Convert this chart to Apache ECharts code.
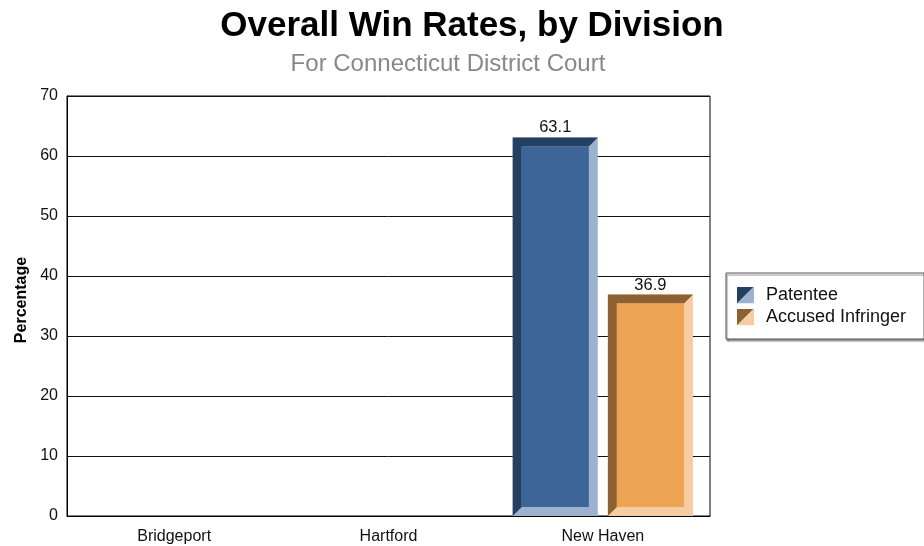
<!DOCTYPE html>
<html>
<head>
<meta charset="utf-8">
<script src="https://cdn.jsdelivr.net/npm/echarts@6/dist/echarts.min.js"></script>
<style>html,body{margin:0;padding:0;background:#fff;}#c{width:924px;height:546px;}</style>
</head>
<body>
<div id="c"></div>
<script>
const categories = ['Bridgeport', 'Hartford', 'New Haven'];
const patentee = [0, 0, 63.1];
const accusedInfringer = [0, 0, 36.9];
const seriesNames = ['Patentee', 'Accused Infringer'];
const yTicks = [0, 10, 20, 30, 40, 50, 60, 70];

const FONT = '"Liberation Sans", Arial, Helvetica, sans-serif';
const palettes = [
  { dark: '#243f60', mid: '#3b6697', light: '#9cb2ce' },
  { dark: '#8e6133', mid: '#efa454', light: '#f6cda2' }
];
const BAR_RATIO = 0.397, GAP_RATIO = 0.047, BEVEL = 9;

function iconUrl(p) {
  const svg = "<svg xmlns='http://www.w3.org/2000/svg' width='24' height='17' viewBox='0 0 24 17'>" +
    "<polygon points='0,0 17,0 0,17' fill='" + p.dark + "'/>" +
    "<polygon points='17,0 17,17 0,17' fill='" + p.light + "'/></svg>";
  return 'image://data:image/svg+xml;charset=utf-8,' + encodeURIComponent(svg);
}

function makeRender(si) {
  const p = palettes[si];
  return function (params, api) {
    const cat = api.value(0), val = api.value(1);
    if (!val) return null;
    const base = api.coord([cat, 0]);
    const top = api.coord([cat, val]);
    const band = api.size([1, 0])[0];
    const bw = band * BAR_RATIO, gap = band * GAP_RATIO;
    const cx = base[0] + (si === 0 ? -1 : 1) * (bw + gap) / 2;
    const x0 = cx - bw / 2, x1 = cx + bw / 2, y0 = top[1], y1 = base[1];
    const b = BEVEL;
    return {
      type: 'group',
      children: [
        { type: 'rect', shape: { x: x0, y: y0, width: bw, height: y1 - y0 }, style: { fill: p.light } },
        { type: 'polygon', shape: { points: [[x0, y0], [x1, y0], [x1 - b, y0 + b], [x0 + b, y0 + b], [x0 + b, y1 - b], [x0, y1]] }, style: { fill: p.dark } },
        { type: 'rect', shape: { x: x0 + b, y: y0 + b, width: bw - 2 * b, height: y1 - y0 - 2 * b }, style: { fill: p.mid } },
        { type: 'text', style: { text: String(val), x: cx, y: y0 - 1, align: 'center', verticalAlign: 'bottom', font: '16.5px ' + FONT, fill: '#111' } }
      ]
    };
  };
}

const chart = echarts.init(document.getElementById('c'));
chart.setOption({
  animation: false,
  backgroundColor: '#fff',
  title: [
    { text: 'Overall Win Rates, by Division', left: 467, top: 4, textAlign: 'center',
      textStyle: { fontFamily: FONT, fontSize: 35, fontWeight: 'bold', color: '#000' } },
    { text: 'For Connecticut District Court', left: 443, top: 47, textAlign: 'center',
      textStyle: { fontFamily: FONT, fontSize: 24, fontWeight: 'normal', color: '#888' } }
  ],
  legend: {
    orient: 'vertical', left: 726, top: 273,
    itemWidth: 24, itemHeight: 17, itemGap: 4,
    padding: [13, 18, 13, 11],
    borderColor: '#555', borderWidth: 1,
    shadowColor: 'rgba(0,0,0,0.45)', shadowOffsetY: 2, shadowOffsetX: 1, shadowBlur: 1,
    backgroundColor: '#fff',
    textStyle: { fontFamily: FONT, fontSize: 18, color: '#111', lineHeight: 18 },
    data: seriesNames.map((n, i) => ({ name: n, icon: iconUrl(palettes[i]) }))
  },
  grid: { left: 67, right: 214, top: 96, bottom: 30, show: true, borderColor: '#000', borderWidth: 1, backgroundColor: '#fff' },
  xAxis: {
    type: 'category', data: categories,
    axisLine: { lineStyle: { color: '#000' } },
    axisTick: { show: false },
    axisLabel: { fontFamily: FONT, fontSize: 16, color: '#111', margin: 13 }
  },
  yAxis: {
    type: 'value', min: yTicks[0], max: yTicks[yTicks.length - 1], interval: 10,
    name: 'Percentage', nameLocation: 'middle', nameRotate: 90, nameGap: 32,
    nameTextStyle: { fontFamily: FONT, fontSize: 16, fontWeight: 'bold', color: '#000', padding: [0, 0, 0, 12] },
    axisLine: { show: true, lineStyle: { color: '#000' } },
    axisTick: { show: false },
    axisLabel: { fontFamily: FONT, fontSize: 16, color: '#111', margin: 9 },
    splitLine: { lineStyle: { color: '#111', width: 1 } }
  },
  series: [
    { name: seriesNames[0], type: 'custom', renderItem: makeRender(0), itemStyle: { color: palettes[0].mid },
      encode: { x: 0, y: 1 }, data: patentee.map((v, i) => [i, v]) },
    { name: seriesNames[1], type: 'custom', renderItem: makeRender(1), itemStyle: { color: palettes[1].mid },
      encode: { x: 0, y: 1 }, data: accusedInfringer.map((v, i) => [i, v]) }
  ]
});
</script>
</body>
</html>
